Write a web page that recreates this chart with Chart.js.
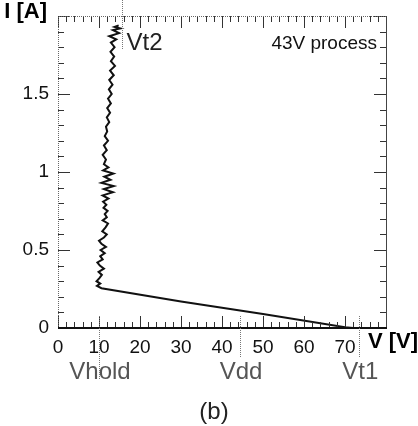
<!DOCTYPE html>
<html>
<head>
<meta charset="utf-8">
<script src="https://cdn.jsdelivr.net/npm/chart.js@4"></script>
<style>
  html, body { margin: 0; padding: 0; background: #fff; }
  canvas { display: block; }
</style>
</head>
<body>
<canvas id="iv-chart" width="418" height="426"></canvas>
<script>
  // ── data ─────────────────────────────────────────────
  // TLP trace: ramp along I=0 up to Vt1, snapback to Vhold, then the noisy rise to Vt2
  const traceV = [
    0, 72, 70, 50, 30, 10.6,
    9.5, 10.3, 9.4, 10.1, 10.7, 9.9, 11.2, 10.2, 9.6, 10.9,
    10.3, 11.4, 10.4, 11.7, 10.6, 10.0, 11.2, 11.9, 10.8, 11.6,
    12.2, 10.9, 11.9, 11.4, 12.1, 11.1, 11.8, 11.0, 12.3, 10.9,
    13.4, 11.2, 13.6, 10.6, 12.8, 11.3, 13.5, 11.0, 12.3, 11.2,
    11.7, 10.9, 11.9, 11.2, 12.2, 11.4, 12.0, 11.7, 12.5, 11.9,
    12.7, 12.0, 12.9, 12.2, 13.1, 12.4, 13.3, 12.5, 13.6, 12.7,
    13.9, 12.9, 13.7, 12.8, 13.8, 12.9, 14.2, 12.5, 14.9, 13.4,
    15.2, 13.8, 14.8
  ];
  const traceI = [
    0, 0, 0.005, 0.09, 0.17, 0.255,
    0.27, 0.285, 0.30, 0.32, 0.34, 0.36, 0.38, 0.40, 0.42, 0.44,
    0.46, 0.48, 0.50, 0.52, 0.54, 0.56, 0.58, 0.60, 0.62, 0.645,
    0.67, 0.69, 0.71, 0.73, 0.75, 0.77, 0.79, 0.81, 0.83, 0.85,
    0.87, 0.89, 0.91, 0.93, 0.95, 0.97, 0.99, 1.01, 1.03, 1.05,
    1.08, 1.11, 1.14, 1.17, 1.20, 1.23, 1.26, 1.29, 1.32, 1.35,
    1.38, 1.41, 1.44, 1.47, 1.50, 1.53, 1.56, 1.59, 1.62, 1.65,
    1.68, 1.71, 1.74, 1.77, 1.80, 1.83, 1.85, 1.87, 1.89, 1.91,
    1.92, 1.93, 1.94
  ];

  const xTicks = [0, 10, 20, 30, 40, 50, 60, 70, 80];
  const yTicks = [0, 0.5, 1, 1.5, 2];
  const xTickLabels = ['0', '10', '20', '30', '40', '50', '60', '70', ''];
  const yTickLabels = ['0', '0.5', '1', '1.5', ''];

  // marker voltages written under the axis
  const markerNames = ['Vhold', 'Vdd', 'Vt1'];
  const markerV = [10, 44.4, 73.5];
  const vt2V = 15.5;

  const FONT = "'Liberation Sans', Arial, sans-serif";

  // ── frame, inner ticks and annotations ───────────────
  const framePlugin = {
    id: 'frame',
    afterDraw(chart) {
      const { ctx, chartArea: a, scales } = chart;
      const xs = scales.x, ys = scales.y;
      ctx.save();

      // inner tick marks on all four sides
      ctx.strokeStyle = '#333';
      ctx.lineWidth = 1;
      for (let v = 0; v <= 80; v += 2) {
        const px = Math.round(xs.getPixelForValue(v)) + 0.5;
        const len = v % 10 === 0 ? 12 : 6;
        ctx.beginPath();
        ctx.moveTo(px, a.bottom); ctx.lineTo(px, a.bottom - len);
        ctx.moveTo(px, a.top); ctx.lineTo(px, a.top + len);
        ctx.stroke();
      }
      for (let i = 0; i <= 20; i++) {
        const v = i / 10;
        const py = Math.round(ys.getPixelForValue(v)) + 0.5;
        const len = i % 5 === 0 ? 12 : 6;
        ctx.beginPath();
        ctx.moveTo(a.left, py); ctx.lineTo(a.left + len, py);
        ctx.moveTo(a.right, py); ctx.lineTo(a.right - len, py);
        ctx.stroke();
      }

      // frame: dotted left/top, solid right, heavy bottom
      ctx.strokeStyle = '#666';
      ctx.setLineDash([1, 1]);
      ctx.beginPath();
      ctx.moveTo(a.left + 0.5, a.bottom); ctx.lineTo(a.left + 0.5, a.top + 0.5);
      ctx.lineTo(a.right, a.top + 0.5);
      ctx.stroke();
      ctx.setLineDash([]);
      ctx.strokeStyle = '#444';
      ctx.beginPath();
      ctx.moveTo(a.right + 0.5, a.top); ctx.lineTo(a.right + 0.5, a.bottom);
      ctx.stroke();
      ctx.strokeStyle = '#111';
      ctx.lineWidth = 2;
      ctx.beginPath();
      ctx.moveTo(a.left, a.bottom); ctx.lineTo(a.right + 1, a.bottom);
      ctx.stroke();

      // dotted guide lines
      ctx.strokeStyle = '#777';
      ctx.lineWidth = 1;
      ctx.setLineDash([1, 1]);
      markerV.forEach((v, i) => {
        const px = Math.round(xs.getPixelForValue(v)) + 0.5;
        ctx.beginPath();
        ctx.moveTo(px, a.bottom - 12);
        ctx.lineTo(px, a.bottom + (i === 0 ? 52 : 30));
        ctx.stroke();
      });
      const pv = Math.round(xs.getPixelForValue(vt2V)) + 0.5;
      ctx.beginPath();
      ctx.moveTo(pv, 0); ctx.lineTo(pv, a.top + 34);
      ctx.stroke();
      ctx.setLineDash([]);

      // texts
      ctx.textBaseline = 'middle';
      ctx.fillStyle = '#555';
      ctx.font = `24px ${FONT}`;
      ctx.textAlign = 'center';
      markerNames.forEach((name, i) => {
        ctx.fillText(name, xs.getPixelForValue(markerV[i]) + 1, a.bottom + 44);
      });
      ctx.fillStyle = '#222';
      ctx.fillText('(b)', 214, 412);
      ctx.textAlign = 'left';
      ctx.fillText('Vt2', pv + 4, a.top + 27);
      ctx.font = `19px ${FONT}`;
      ctx.textAlign = 'right';
      ctx.fillStyle = '#111';
      ctx.fillText('43V process', a.right - 9, a.top + 28);

      ctx.font = `bold 22px ${FONT}`;
      ctx.fillStyle = '#000';
      ctx.textAlign = 'right';
      ctx.fillText('I [A]', 47, 12);
      ctx.textAlign = 'left';
      ctx.fillText('V [V]', a.right - 18, a.bottom + 14);
      ctx.restore();
    },
  };

  // ── chart ─────────────────────────────────────────────
  const points = traceV.map((v, i) => ({ x: v, y: traceI[i] }));

  new Chart(document.getElementById('iv-chart'), {
    type: 'scatter',
    data: {
      datasets: [{
        data: points,
        showLine: true,
        borderColor: '#111',
        borderWidth: 2,
        pointRadius: 0,
        tension: 0,
      }],
    },
    options: {
      responsive: false,
      animation: false,
      layout: { padding: { top: 16, right: 32, left: 0, bottom: 0 } },
      plugins: { legend: { display: false }, tooltip: { enabled: false } },
      scales: {
        x: {
          type: 'linear',
          min: 0,
          max: 80,
          afterBuildTicks: s => { s.ticks = xTicks.map(v => ({ value: v })); },
          afterFit: s => { s.height = 98; },
          ticks: {
            autoSkip: false,
            maxRotation: 0,
            padding: 0,
            color: '#111',
            font: { family: FONT, size: 19 },
            callback: (v, i) => xTickLabels[i],
          },
          grid: { display: false },
          border: { display: false },
        },
        y: {
          type: 'linear',
          min: 0,
          max: 2,
          afterBuildTicks: s => { s.ticks = yTicks.map(v => ({ value: v })); },
          afterFit: s => { s.width = 58; },
          ticks: {
            autoSkip: false,
            padding: 1,
            color: '#111',
            font: { family: FONT, size: 19 },
            callback: (v, i) => yTickLabels[i],
          },
          grid: { display: false },
          border: { display: false },
        },
      },
    },
    plugins: [framePlugin],
  });
</script>
</body>
</html>
